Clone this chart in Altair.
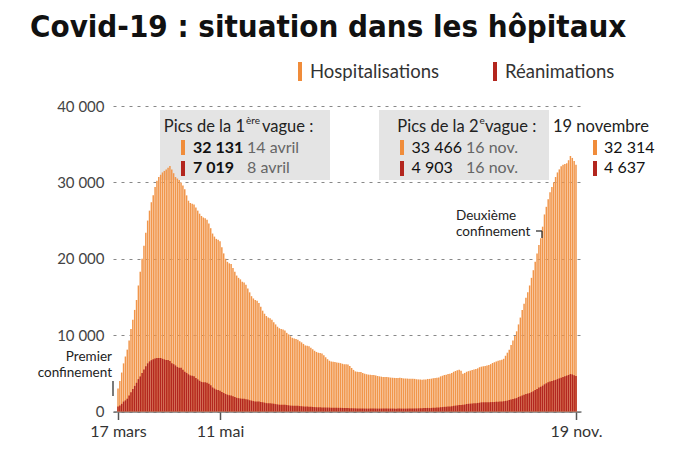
import altair as alt
import pandas as pd

# ---------------- data ----------------
title_text = "Covid-19 : situation dans les hôpitaux"
series_names = ["Hospitalisations", "Réanimations"]

# daily values, 17 March -> 19 November 2020
hosp_mar = [3000, 4000, 5100, 6300, 7200, 8100, 9300, 10800, 12000, 13300, 14600, 16500, 18300, 20000, 21700]
hosp_apr = [23400, 25000, 26300, 27400, 28300, 29400, 30200, 30700, 31000, 31300, 31500, 31700, 31900, 32131, 31700,
            31200, 30700, 30500, 30300, 30000, 29600, 29100, 28300, 27600, 27300, 27200, 27100, 26700, 26300, 25900]
hosp_may = [25600, 25400, 25300, 25100, 24600, 24000, 23300, 22900, 22600, 22500, 22284, 21500, 20700, 20000, 19600,
            19400, 19300, 18800, 18300, 17800, 17500, 17300, 17000, 16900, 16600, 16100, 15600, 15100, 14800, 14600, 14500]
hosp_jun = [14200, 13700, 13200, 12800, 12500, 12300, 12200, 12000, 11700, 11400, 11100, 10900, 10800, 10750, 10600,
            10300, 10100, 9850, 9650, 9550, 9500, 9400, 9200, 9050, 8850, 8650, 8600, 8550, 8350, 8150]
hosp_jul = [7950, 7800, 7700, 7650, 7600, 7350, 7100, 6850, 6650, 6550, 6500, 6480, 6400, 6380, 6330,
            6250, 6200, 6180, 6160, 5950, 5700, 5450, 5250, 5200, 5180, 5160, 5050, 4950, 4880, 4830, 4800]
hosp_aug = [4790, 4780, 4720, 4650, 4600, 4560, 4530, 4520, 4520, 4480, 4440, 4420, 4400, 4390, 4400,
            4410, 4380, 4330, 4320, 4310, 4300, 4290, 4280, 4270, 4220, 4200, 4180, 4170, 4180, 4200, 4260]
hosp_sep = [4270, 4300, 4340, 4380, 4420, 4460, 4600, 4680, 4780, 4820, 4900, 4950, 5050, 5200, 5300,
            5400, 5480, 5350, 4950, 5050, 5200, 5280, 5350, 5440, 5500, 5560, 5650, 5800, 5870, 5920]
hosp_oct = [5970, 6020, 6090, 6200, 6350, 6450, 6550, 6630, 6700, 6760, 6900, 7300, 7700, 8100, 8700,
            9300, 9900, 10500, 11400, 12300, 13300, 14100, 14900, 15600, 16500, 17500, 18500, 19600, 20700, 21800, 22700]
hosp_nov = [24200, 25800, 26800, 27800, 28700, 29400, 30000, 30700, 31300, 31700, 32100, 32300, 32400, 32500, 32900,
            33466, 33200, 32800, 32314]

rea_mar = [650, 771, 1002, 1297, 1453, 1674, 2080, 2516, 2935, 3351, 3758, 4236, 4592, 5056, 5496]
rea_apr = [5940, 6305, 6556, 6723, 6838, 6948, 7004, 7019, 7006, 6899, 6820, 6728, 6730, 6599, 6313,
           6194, 6029, 5838, 5741, 5722, 5475, 5217, 5053, 4870, 4729, 4682, 4608, 4387, 4207, 4019]
rea_may = [3878, 3827, 3819, 3769, 3639, 3431, 3147, 3001, 2868, 2812, 2712, 2542, 2428, 2299, 2203,
           2132, 2087, 1998, 1894, 1794, 1745, 1701, 1665, 1655, 1609, 1555, 1474, 1429, 1361, 1325, 1319]
rea_jun = [1302, 1256, 1209, 1159, 1094, 1080, 1074, 1053, 1029, 966, 931, 888, 880, 879, 872,
           844, 808, 774, 760, 752, 752, 744, 710, 694, 664, 642, 639, 634, 612, 594]
rea_jul = [573, 559, 547, 544, 538, 526, 518, 514, 509, 497, 496, 495, 482, 478, 478,
           469, 449, 448, 450, 439, 431, 414, 410, 406, 407, 405, 390, 384, 381, 379, 381]
rea_aug = [388, 392, 384, 377, 378, 386, 387, 385, 390, 384, 383, 383, 380, 376, 379,
           378, 379, 375, 376, 381, 383, 387, 391, 398, 400, 413, 423, 435, 444, 452, 470]
rea_sep = [450, 470, 490, 505, 515, 530, 560, 580, 610, 635, 660, 670, 690, 740, 770,
           800, 835, 860, 875, 910, 980, 1005, 1025, 1055, 1075, 1085, 1120, 1150, 1200, 1210]
rea_oct = [1215, 1220, 1210, 1230, 1235, 1245, 1280, 1275, 1310, 1320, 1345, 1390, 1420, 1520, 1565,
           1650, 1710, 1755, 1900, 1990, 2080, 2190, 2280, 2360, 2410, 2540, 2650, 2820, 2940, 3130, 3250]
rea_nov = [3380, 3560, 3690, 3840, 3940, 4000, 4080, 4140, 4240, 4330, 4430, 4530, 4620, 4700, 4780,
           4903, 4850, 4750, 4637]

tick_days = [0, 55, 247]
tick_labels = ["17 mars", "11 mai", "19 nov."]
y_ticks = [0, 10000, 20000, 30000, 40000]

hosp = hosp_mar + hosp_apr + hosp_may + hosp_jun + hosp_jul + hosp_aug + hosp_sep + hosp_oct + hosp_nov
rea = rea_mar + rea_apr + rea_may + rea_jun + rea_jul + rea_aug + rea_sep + rea_oct + rea_nov
df = pd.DataFrame({"day": list(range(len(hosp))), "hosp": hosp, "rea": rea})

# ---------------- layout / style ----------------
LEFT, TOP = 113, 106
W, H = 468, 305.5
ORANGE = "#F1964B"
ORANGE_KEY = "#F08C3A"
RED = "#B3261E"
FONT = "Lato"
TFONT = "'DejaVu Sans Condensed', Lato, sans-serif"

label_expr = " : ".join(
    [f"datum.value == {d} ? '{l}'" for d, l in zip(tick_days[:-1], tick_labels[:-1])]
) + f" : '{tick_labels[-1]}'"

x_enc = alt.X("day:Q", title=None,
              scale=alt.Scale(domain=[tick_days[0], tick_days[-1]], nice=False, zero=False),
              axis=alt.Axis(values=tick_days, labelExpr=label_expr, grid=False,
                            domainColor="#777", domainWidth=1.5, tickColor="#555", tickWidth=1.5,
                            tickSize=8, labelFont=FONT, labelFontSize=16, labelColor="#333",
                            labelPadding=4, labelFlush=False))
y_scale = alt.Scale(domain=[0, 40000], nice=False)
y_axis = alt.Axis(values=y_ticks, labelExpr="replace(format(datum.value, ','), ',', ' ')",
                  domain=False, ticks=False, grid=True, gridDash=[3, 5], gridColor="#888",
                  gridWidth=1, labelFont=FONT, labelFontSize=15, labelColor="#444", labelPadding=9)

bars_h = alt.Chart(df).mark_bar(width=1.5, color=ORANGE).encode(
    x=x_enc, y=alt.Y("hosp:Q", title=None, scale=y_scale, axis=y_axis))
bars_r = alt.Chart(df).mark_bar(width=1.5, color=RED).encode(
    x=x_enc, y=alt.Y("rea:Q", title=None, scale=y_scale, axis=y_axis))

one = alt.Data(values=[{"a": 1}])


def txt(s, x, y, size=16, color="#222", weight="normal", align="left", font=FONT, baseline="alphabetic"):
    return alt.Chart(one).mark_text(text=s, fontSize=size, color=color, fontWeight=weight, align=align,
                                    baseline=baseline, font=font).encode(
        x=alt.value(x - LEFT), y=alt.value(y - TOP))


def box(x1, y1, x2, y2, color):
    return alt.Chart(one).mark_rect(color=color).encode(
        x=alt.value(x1 - LEFT), x2=alt.value(x2 - LEFT), y=alt.value(y1 - TOP), y2=alt.value(y2 - TOP))


def rule(x1, y1, x2, y2, color="#333", w=1.3):
    return alt.Chart(one).mark_rule(color=color, strokeWidth=w).encode(
        x=alt.value(x1 - LEFT), x2=alt.value(x2 - LEFT), y=alt.value(y1 - TOP), y2=alt.value(y2 - TOP))


layers = [
    box(160, 110, 330, 180, "#E4E4E4"),
    box(379, 110, 549, 180, "#E4E4E4"),
    bars_h, bars_r,
    # title
    txt(title_text, 30, 37, size=31, color="#111", weight="bold", font=TFONT),
    # legend
    box(298, 62, 302, 81, ORANGE_KEY), txt(series_names[0], 310, 78, size=18.5, color="#333"),
    box(493, 62, 497, 81, RED), txt(series_names[1], 505, 78, size=18.5, color="#333"),
    # box 1
    txt("Pics de la 1", 245, 131.5, size=16.5, align="right"),
    txt("ère", 246, 124, size=10),
    txt("vague :", 262, 131.5, size=16.5),
    box(181, 140, 185, 155, ORANGE_KEY), txt("32 131", 193, 153.3, size=16, color="#111", weight="bold"),
    txt("14 avril", 247, 153.3, size=16, color="#666"),
    box(181, 161, 185, 176, RED), txt("7 019", 193, 173.3, size=16, color="#111", weight="bold"),
    txt("8 avril", 247, 173.3, size=16, color="#666"),
    # box 2
    txt("Pics de la 2", 478.5, 131.5, size=16.5, align="right"),
    txt("e", 479.5, 124, size=10),
    txt("vague :", 485, 131.5, size=16.5),
    box(400, 140, 404, 155, ORANGE_KEY), txt("33 466", 411.5, 153.3, size=16, color="#111"),
    txt("16 nov.", 466, 153.3, size=16, color="#666"),
    box(400, 161, 404, 176, RED), txt("4 903", 411.5, 173.3, size=16, color="#111"),
    txt("16 nov.", 466, 173.3, size=16, color="#666"),
    # latest
    txt("19 novembre", 553, 131.5, size=16.5),
    box(593, 140, 597, 155, ORANGE_KEY), txt("32 314", 604, 153.3, size=16, color="#111"),
    box(593, 161, 597, 176, RED), txt("4 637", 604, 173.3, size=16, color="#111"),
    # annotations
    txt("Deuxième", 456, 219.5, size=13.5),
    txt("confinement", 456, 235.5, size=13.5),
    rule(536, 231, 542, 231), rule(542, 231, 542, 238),
    txt("Premier", 112, 361, size=13.5, align="right"),
    txt("confinement", 112, 377, size=13.5, align="right"),
    rule(113, 381, 113, 396),
]

chart = alt.layer(*layers).properties(
    width=W, height=H,
    autosize=alt.AutoSizeParams(type="none"),
    padding={"left": LEFT, "top": TOP, "right": 697 - LEFT - W, "bottom": 455 - TOP - H},
    background="white",
).configure_view(stroke=None)

chart.save("out.html", embed_options={"renderer": "svg", "actions": False})
